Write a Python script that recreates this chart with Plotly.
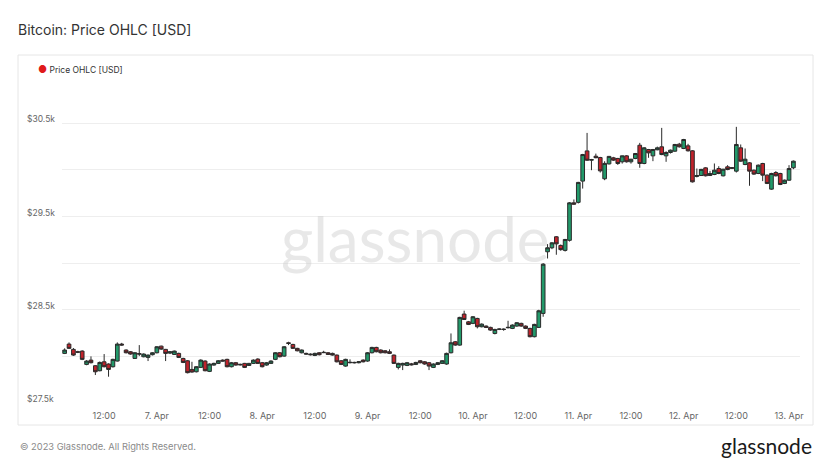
import plotly.graph_objects as go
import pandas as pd

# ---------------- data (hourly candles, 6 Apr 03:00 -> 13 Apr 01:00) ----------------
start_time = "2023-04-06 03:00"
n_candles = 167

open_ = [28032, 28132, 28075, 28050, 28057, 27914, 27960, 27900, 27846, 27942,
         27918, 27889, 27950, 28132, 28068, 28050, 27978, 28030, 27996, 27989,
         28018, 28039, 28110, 28075, 28035, 28021, 28032, 27978, 27953, 27860,
         27835, 27882, 27950, 27839, 27907, 27925, 27960, 27968, 27889, 27932,
         27915, 27925, 27903, 27925, 27971, 27932, 27907, 27925, 27968, 28039,
         28003, 28146, 28128, 28086, 28039, 28032, 28025, 28010, 28039, 28040,
         28039, 28032, 28014, 27953, 27896, 27932, 27936, 27932, 27960, 27950,
         28039, 28096, 28068, 28060, 28050, 28014, 27882, 27907, 27903, 27920,
         27914, 27953, 27942, 27932, 27882, 27914, 27925, 27918, 28039, 28157,
         28121, 28454, 28371, 28354, 28407, 28318, 28325, 28311, 28246, 28290,
         28293, 28307, 28300, 28325, 28354, 28325, 28300, 28211, 28311, 28461,
         29122, 29165, 29283, 29190, 29137, 29245, 29647, 29652, 29880, 30204,
         30104, 30147, 30133, 29905, 30065, 30130, 30123, 30087, 30151, 30087,
         30123, 30265, 30069, 30219, 30151, 30216, 30248, 30151, 30187, 30201,
         30276, 30230, 30258, 30205, 29930, 29940, 30022, 29940, 29951, 30015,
         29937, 30033, 30025, 29987, 30237, 30058, 30076, 29997, 29962, 30069,
         29944, 29794, 29972, 29962, 29855, 29890, 30023]
high = [28086, 28150, 28090, 28060, 28065, 27960, 28000, 27905, 27945, 28025,
        27925, 27975, 28150, 28145, 28075, 28057, 28045, 28121, 28032, 28020,
        28045, 28110, 28115, 28080, 28057, 28062, 28040, 27985, 27960, 27942,
        27895, 27968, 27958, 27925, 27932, 27960, 27968, 27975, 27940, 27940,
        27922, 27930, 27930, 27968, 27980, 27940, 27940, 27958, 28045, 28046,
        28110, 28157, 28135, 28092, 28074, 28040, 28032, 28040, 28046, 28060,
        28046, 28040, 28020, 27960, 27975, 27968, 27942, 27950, 27968, 28046,
        28103, 28103, 28075, 28068, 28075, 28020, 27932, 27932, 27940, 27930,
        27942, 27960, 27950, 27940, 27925, 27940, 27960, 28040, 28246, 28165,
        28425, 28490, 28380, 28432, 28414, 28354, 28332, 28318, 28296, 28300,
        28300, 28382, 28343, 28368, 28361, 28332, 28307, 28350, 28500, 29000,
        29204, 29225, 29290, 29200, 29260, 29655, 29683, 29872, 30172, 30397,
        30118, 30175, 30140, 30093, 30150, 30140, 30129, 30154, 30158, 30118,
        30182, 30290, 30244, 30225, 30225, 30250, 30451, 30200, 30218, 30279,
        30290, 30333, 30280, 30212, 30015, 30011, 30029, 29990, 30069, 30040,
        30011, 30051, 30030, 30462, 30273, 30230, 30083, 30004, 30058, 30076,
        29951, 29969, 29987, 29969, 29897, 30051, 30101]
low = [28025, 28080, 28005, 28035, 27960, 27905, 27925, 27800, 27840, 27882,
       27782, 27880, 27945, 28115, 28032, 28018, 27972, 28003, 27990, 27950,
       28010, 28032, 28070, 27950, 28025, 28015, 27982, 27928, 27818, 27825,
       27828, 27875, 27840, 27832, 27900, 27918, 27945, 27882, 27882, 27900,
       27903, 27875, 27897, 27918, 27918, 27882, 27900, 27918, 27960, 27990,
       27996, 28121, 28080, 28054, 28032, 28018, 28010, 28003, 28010, 28035,
       28015, 28008, 27935, 27907, 27889, 27925, 27925, 27925, 27935, 27942,
       28032, 28043, 28032, 28032, 28025, 27918, 27860, 27853, 27896, 27903,
       27907, 27925, 27910, 27853, 27875, 27907, 27918, 27910, 28032, 28114,
       28114, 28390, 28336, 28346, 28300, 28311, 28304, 28275, 28236, 28282,
       28275, 28300, 28293, 28318, 28318, 28293, 28204, 28204, 28304, 28425,
       29050, 29150, 29090, 29133, 29125, 29232, 29626, 29640, 29800, 30097,
       29997, 30125, 29972, 29890, 30058, 30097, 30054, 30068, 30079, 30068,
       30115, 30023, 30061, 30130, 30094, 30211, 30158, 30087, 30176, 30194,
       30240, 30223, 30197, 29865, 29920, 29935, 29930, 29935, 29944, 29954,
       29930, 29997, 30010, 29972, 30087, 30051, 29830, 29947, 29955, 29880,
       29848, 29787, 29930, 29837, 29848, 29883, 30008]
close = [28068, 28086, 28014, 28045, 27968, 27950, 27932, 27835, 27935, 27889,
         27860, 27968, 28132, 28122, 28039, 28025, 28039, 28025, 28025, 28014,
         28039, 28103, 28078, 28032, 28050, 28057, 27989, 27935, 27825, 27832,
         27889, 27960, 27846, 27918, 27925, 27953, 27950, 27889, 27932, 27907,
         27910, 27882, 27925, 27960, 27925, 27889, 27932, 27950, 28039, 27996,
         28103, 28139, 28086, 28060, 28068, 28025, 28018, 28032, 28018, 28043,
         28021, 28014, 27942, 27914, 27968, 27936, 27932, 27942, 27942, 28039,
         28096, 28050, 28039, 28039, 28032, 27925, 27925, 27925, 27932, 27910,
         27935, 27932, 27918, 27896, 27918, 27932, 27953, 28032, 28146, 28121,
         28418, 28396, 28343, 28425, 28318, 28346, 28311, 28282, 28289, 28293,
         28289, 28311, 28336, 28361, 28325, 28300, 28211, 28343, 28489, 28989,
         29165, 29218, 29207, 29145, 29254, 29647, 29633, 29866, 30165, 30104,
         30111, 30131, 29990, 30070, 30145, 30105, 30069, 30151, 30087, 30115,
         30176, 30069, 30237, 30183, 30219, 30237, 30165, 30187, 30212, 30273,
         30248, 30326, 30205, 29872, 29940, 30006, 29937, 29962, 29997, 29962,
         30008, 30004, 30018, 30273, 30094, 30115, 29987, 29955, 30051, 29944,
         29855, 29962, 29937, 29844, 29890, 30015, 30094]

times = pd.date_range(start_time, periods=n_candles, freq="h")

x_tick_vals = ["2023-04-06 12:00", "2023-04-07 00:00", "2023-04-07 12:00", "2023-04-08 00:00",
               "2023-04-08 12:00", "2023-04-09 00:00", "2023-04-09 12:00", "2023-04-10 00:00",
               "2023-04-10 12:00", "2023-04-11 00:00", "2023-04-11 12:00", "2023-04-12 00:00",
               "2023-04-12 12:00", "2023-04-13 00:00"]
x_tick_text = ["12:00", "7. Apr", "12:00", "8. Apr", "12:00", "9. Apr", "12:00", "10. Apr",
               "12:00", "11. Apr", "12:00", "12. Apr", "12:00", "13. Apr"]
y_grid_vals = [27500, 28000, 28500, 29000, 29500, 30000, 30500]
y_label_vals = [27500, 28500, 29500, 30500]
y_label_text = ["$27.5k", "$28.5k", "$29.5k", "$30.5k"]

# ---------------- figure ----------------
W, H = 832, 468
ML, MR, MT, MB = 62, 32, 100, 65
pw, ph = W - ML - MR, H - MT - MB
Y_MIN, Y_MAX = 27500, 30750


def px_x(p):
    return (p - ML) / pw


def px_y(p):
    return (H - MB - p) / ph


fig = go.Figure()
fig.add_trace(go.Candlestick(
    x=times, open=open_, high=high, low=low, close=close,
    increasing=dict(fillcolor="#22996a", line=dict(color="#2a2a2a", width=1)),
    decreasing=dict(fillcolor="#c0222b", line=dict(color="#2a2a2a", width=1)),
    whiskerwidth=0, showlegend=False, name="Price OHLC [USD]",
))

font_family = "Inter, Roboto, 'Noto Sans', sans-serif"

fig.update_layout(
    width=W, height=H,
    margin=dict(l=ML, r=MR, t=MT, b=MB),
    paper_bgcolor="white", plot_bgcolor="white",
    font=dict(family=font_family, color="#666666", size=9),
    showlegend=False,
    boxgap=0.12, boxgroupgap=0.05,
    title=dict(text="Bitcoin: Price OHLC [USD]", x=18 / W, xanchor="left",
               y=1 - 30 / H, yanchor="middle", xref="container", yref="container",
               font=dict(size=14, color="#333333", family=font_family)),
    xaxis=dict(
        type="date",
        range=["2023-04-06 02:24", "2023-04-13 02:30"],
        rangeslider=dict(visible=False),
        tickmode="array", tickvals=x_tick_vals, ticktext=x_tick_text,
        showgrid=False, zeroline=False, showline=False,
        ticks="", ticklabelstandoff=6,
        tickfont=dict(size=9, color="#666666"),
    ),
    yaxis=dict(
        range=[Y_MIN, Y_MAX],
        tickmode="array", tickvals=y_grid_vals,
        showticklabels=False,
        showgrid=True, gridcolor="#eeeeee", gridwidth=1,
        zeroline=False, showline=False, ticks="",
    ),
)

# y-axis labels (left aligned, sitting just above their gridlines)
for v, t in zip(y_label_vals, y_label_text):
    fig.add_annotation(xref="paper", yref="y", x=px_x(25), y=v, yshift=4,
                       xanchor="left", yanchor="middle", showarrow=False,
                       text=t, font=dict(size=8.5, color="#666666", family=font_family))

# outer card border
fig.add_shape(type="rect", xref="paper", yref="paper",
              x0=px_x(18), x1=px_x(813), y0=px_y(425), y1=px_y(55),
              line=dict(color="#e6e6e6", width=1), fillcolor="rgba(0,0,0,0)", layer="below")

# legend (dot + label)
fig.add_annotation(xref="paper", yref="paper", x=px_x(36), y=px_y(69),
                   xanchor="left", yanchor="middle", showarrow=False,
                   text="<span style='color:#e01a1a;font-size:10px'>●</span> Price OHLC [USD]",
                   font=dict(size=8.5, color="#333333", family=font_family))

# watermark
fig.add_annotation(xref="paper", yref="paper", x=px_x(415), y=px_y(238),
                   xanchor="center", yanchor="middle", showarrow=False,
                   text="glassnode", font=dict(size=62, color="rgba(200,200,200,0.42)",
                                               family="Lato, 'Noto Sans', sans-serif"))

# footer
fig.add_annotation(xref="paper", yref="paper", x=px_x(18), y=px_y(446),
                   xanchor="left", yanchor="middle", showarrow=False,
                   text="© 2023 Glassnode. All Rights Reserved.",
                   font=dict(size=9.3, color="#8a8a8a", family=font_family))
fig.add_annotation(xref="paper", yref="paper", x=px_x(814), y=px_y(445),
                   xanchor="right", yanchor="middle", showarrow=False,
                   text="glassnode",
                   font=dict(size=21, color="#1a1a1a", family="Lato, 'Noto Sans', sans-serif"))

fig.write_html("out.html", config={"displayModeBar": False},
               post_script="document.body.style.margin='0';")
